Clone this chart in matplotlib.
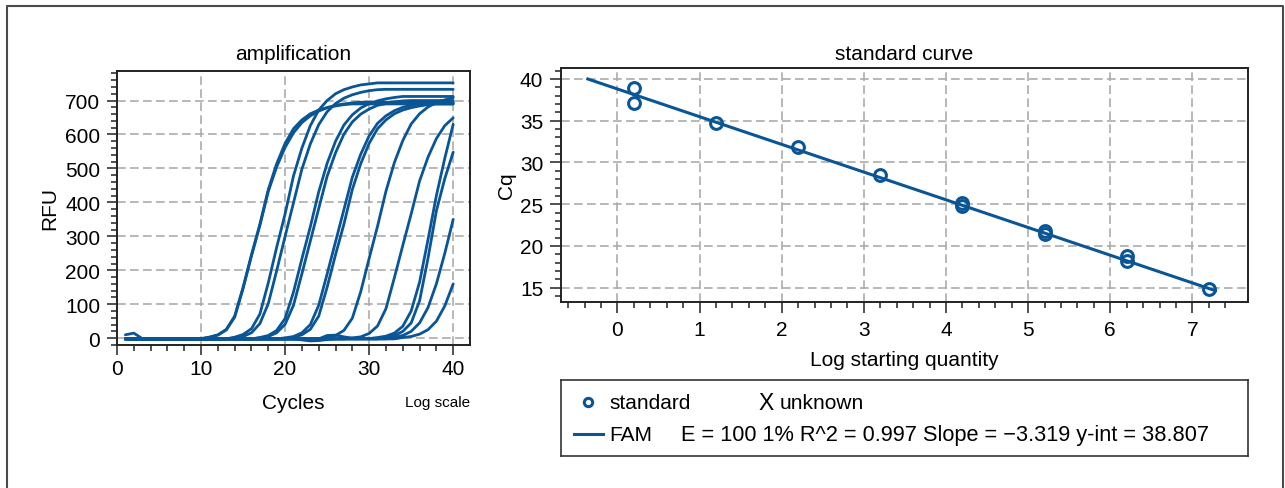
import matplotlib
matplotlib.use('Agg')
import matplotlib.pyplot as plt
from matplotlib.lines import Line2D

plt.rcParams['font.family'] = ['Liberation Sans', 'DejaVu Sans']

# amplification data (RFU per cycle)
cycles = list(range(1, 41))

rfu_a = [10, 15, -1, -2, -2, -2, -2, -2, -2, -1,
         3, 10, 26, 65, 150, 246, 336, 438, 514, 574,
         617, 643, 661, 672, 679, 684, 688, 690, 690, 690,
         690, 690, 690, 690, 690, 690, 690, 690, 690, 690]
rfu_b = [-4, -3, -3, -3, -3, -2, -2, -2, -2, -2,
         3, 9, 24, 62, 146, 242, 332, 432, 505, 562,
         605, 635, 655, 669, 679, 686, 690, 693, 695, 695,
         695, 695, 695, 695, 695, 695, 695, 695, 695, 695]
rfu_c = [-2] * 13 + [3, 11, 28, 71, 163, 268, 366, 478, 560, 626,
                     672, 700, 720, 732, 740, 746, 749, 752, 752, 752,
                     752, 752, 752, 752, 752, 752, 752]
rfu_d = [-2] * 13 + [1, 5, 16, 43, 102, 199, 300, 399, 498, 572,
                     629, 667, 691, 707, 717, 724, 729, 732, 733, 733,
                     733, 733, 733, 733, 733, 733, 733]
rfu_e = [-2] * 16 + [2, 8, 23, 58, 136, 234, 328, 431, 515, 580,
                     628, 658, 678, 691, 699, 705, 709, 712, 712, 712,
                     712, 712, 712, 712]
rfu_f = [-2] * 16 + [1, 5, 16, 41, 97, 190, 286, 382, 477, 546,
                     601, 637, 660, 675, 686, 691, 696, 699, 700, 700,
                     700, 700, 700, 700]
rfu_g = [-2] * 19 + [1, 5, 16, 40, 97, 189, 284, 379, 474, 542,
                     596, 633, 655, 670, 680, 686, 691, 694, 695, 695,
                     695]
rfu_h = [-2] * 20 + [3, 10, 26, 65, 150, 246, 336, 438, 514, 574,
                     617, 643, 661, 672, 679, 684, 688, 690, 690, 690]
rfu_i = [-2] * 24 + [2, 8, 23, 59, 137, 235, 330, 433, 517, 582,
                     631, 661, 681, 694, 702, 708]
rfu_j = [-2] * 21 + [-5, -8, -7, -4, -2, -2, 1, 4, 14, 36,
                     87, 178, 273, 366, 463, 533, 588, 626, 649]
rfu_k = [-2] * 24 + [8, 9, 4, 0, -1, -1, 2, 6, 15, 35,
                     80, 165, 290, 420, 530, 630]
rfu_l = [-2] * 31 + [3, 8, 20, 45, 110, 235, 375, 470, 548]
rfu_m = [-2] * 32 + [3, 8, 20, 45, 90, 160, 250, 350]
rfu_n = [-2] * 33 + [2, 5, 12, 25, 50, 95, 160]

rfu_curves = [rfu_a, rfu_b, rfu_c, rfu_d, rfu_e, rfu_f, rfu_g,
              rfu_h, rfu_i, rfu_j, rfu_k, rfu_l, rfu_m, rfu_n]

# standard curve data
log_qty = [0.2, 0.2, 1.2, 2.2, 3.2, 4.2, 4.2, 5.2, 5.2, 6.2, 6.2, 7.2]
cq = [38.96, 37.13, 34.77, 31.9, 28.45, 25.2, 24.75, 21.8, 21.45, 18.8, 18.2, 14.85]
fit_x = [-0.36, 7.28]
fit_cq = [40.0, 14.64]
legend_text = 'E = 100 1% R^2 = 0.997 Slope = \u22123.319 y-int = 38.807'

blue = '#0a5596'
fs = 15
grid_kw = dict(color='#ababab', lw=1.2, ls=(0, (5.2, 2.6)))


def style_axes(ax, mlen, pad_x, pad_y):
    for sp in ax.spines.values():
        sp.set_linewidth(1.4)
        sp.set_color('#222222')
    ax.tick_params(which='both', direction='out', width=1.1, color='#222222')
    ax.tick_params(which='major', length=mlen, labelsize=fs)
    ax.tick_params(which='minor', length=4.5)
    ax.tick_params(axis='x', pad=pad_x)
    ax.tick_params(axis='y', pad=pad_y)
    ax.grid(True, which='major', **grid_kw)
    ax.set_axisbelow(True)


fig = plt.figure(figsize=(12.85, 4.89), dpi=100)

# outer frame (open at the bottom)
fig.add_artist(Line2D([7 / 1285, 7 / 1285, 1283 / 1285, 1283 / 1285],
                      [0, 1 - 7 / 489, 1 - 7 / 489, 0],
                      transform=fig.transFigure, color='#4a4a4a', lw=1.5))

# ---- amplification ----
ax1 = fig.add_axes([117 / 1285, 1 - 346 / 489, 353 / 1285, 274 / 489])
for rfu in rfu_curves:
    ax1.plot(cycles, rfu, color=blue, lw=2.0, solid_capstyle='round',
             solid_joinstyle='round')
ax1.set_xlim(0, 42)
ax1.set_ylim(-20, 787)
ax1.set_xticks([0, 10, 20, 30, 40])
ax1.set_xticks(range(0, 42, 2), minor=True)
ax1.set_yticks(range(0, 701, 100))
ax1.set_yticks(range(-20, 781, 20), minor=True)
style_axes(ax1, 7, 3, 5)
ax1.set_title('amplification', fontsize=fs, pad=9)
ax1.set_xlabel('Cycles', fontsize=fs, labelpad=11)
ax1.set_ylabel('RFU', fontsize=fs, labelpad=4)
ax1.text(1.0, -0.208, 'Log scale', transform=ax1.transAxes,
         ha='right', va='center', fontsize=11)

# ---- standard curve ----
ax2 = fig.add_axes([560.7 / 1285, 1 - 302.7 / 489, 687.6 / 1285, 233.4 / 489])
ax2.plot(fit_x, fit_cq, color=blue, lw=2.2)
ax2.plot(log_qty, cq, 'o', ms=8.5, mfc='none', mec=blue, mew=2.2)
ax2.set_xlim(-0.69, 7.68)
ax2.set_ylim(13.32, 41.28)
ax2.set_xticks(range(0, 8))
ax2.set_xticks([i / 5 for i in range(-3, 38)], minor=True)
ax2.set_yticks(range(15, 41, 5))
ax2.set_yticks(range(14, 42), minor=True)
style_axes(ax2, 8, 5, 4.5)
ax2.set_title('standard curve', fontsize=fs, pad=7)
ax2.set_xlabel('Log starting quantity', fontsize=fs, labelpad=8)
ax2.set_ylabel('Cq', fontsize=fs, labelpad=3)

# ---- legend box ----
axl = fig.add_axes([560.7 / 1285, 1 - 457.3 / 489, 687.6 / 1285, 76.3 / 489])
axl.set_xlim(0, 1)
axl.set_ylim(0, 1)
axl.set_xticks([])
axl.set_yticks([])
for sp in axl.spines.values():
    sp.set_linewidth(1.2)
    sp.set_color('#333333')
axl.plot([0.040], [0.709], 'o', ms=6, mfc='none', mec=blue, mew=2.2)
axl.text(0.071, 0.709, 'standard', fontsize=fs, va='center', ha='left')
axl.text(0.287, 0.709, 'X', fontsize=fs + 1.5, va='center', ha='left')
axl.text(0.318, 0.709, 'unknown', fontsize=fs, va='center', ha='left')
axl.plot([0.020, 0.062], [0.292, 0.292], color=blue, lw=2.2)
axl.text(0.071, 0.292, 'FAM', fontsize=fs, va='center', ha='left')
axl.text(0.175, 0.292, legend_text, fontsize=15.7, va='center', ha='left')

fig.savefig('out.png', dpi=100)
